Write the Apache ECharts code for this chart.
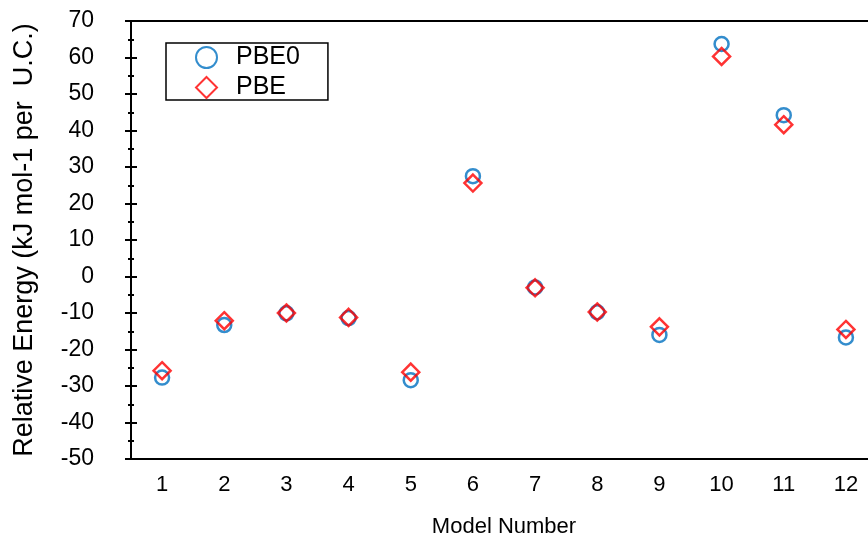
<!DOCTYPE html>
<html>
<head>
<meta charset="utf-8">
<script src="https://cdn.jsdelivr.net/npm/echarts@6/dist/echarts.min.js"></script>
<style>
html,body{margin:0;padding:0;background:#fff;overflow:hidden;width:868px;height:537px;}
#chart{width:877px;height:537px;}
</style>
</head>
<body>
<div id="chart"></div>
<script>
const categories = ['1','2','3','4','5','6','7','8','9','10','11','12'];
const pbe0Values = [-27.7, -13.3, -10.1, -11.4, -28.4, 27.5, -3.0, -9.8, -16.0, 63.7, 44.2, -16.7];
const pbeValues  = [-25.8, -12.1, -10.0, -11.2, -26.2, 25.6, -3.1, -9.7, -13.8, 60.3, 41.6, -14.5];
const yMin = -50, yMax = 70, yStep = 10;

const FONT = '"Liberation Sans", Arial, sans-serif';
const chart = echarts.init(document.getElementById('chart'), null, {renderer: 'canvas'});

const yCommon = {
  type: 'value', min: yMin, max: yMax, interval: yStep, position: 'left',
  axisLine: {show: true, onZero: false, lineStyle: {color: '#000', width: 2}},
  splitLine: {show: false},
  minorTick: {show: true, splitNumber: 2, length: 3, lineStyle: {color: '#000', width: 2}},
  minorSplitLine: {show: false}
};

chart.setOption({
  animation: false,
  backgroundColor: '#fff',
  grid: {left: 131, top: 21, bottom: 78, right: 0, containLabel: false, outerBoundsMode: 'none'},
  legend: {
    orient: 'vertical', left: 166, top: 43,
    padding: [2, 28, 0, 29],
    itemGap: 5, itemWidth: 21, itemHeight: 21,
    borderColor: '#000', borderWidth: 1.5, backgroundColor: '#fff',
    textStyle: {fontFamily: FONT, fontSize: 25, color: '#000', padding: [0, 0, 0, 14]},
    data: ['PBE0', 'PBE']
  },
  xAxis: [{
    type: 'category', data: categories, boundaryGap: true, position: 'bottom',
    name: 'Model Number', nameLocation: 'middle', nameGap: 57,
    nameTextStyle: {fontFamily: FONT, fontSize: 22, color: '#000'},
    axisLine: {show: true, onZero: false, lineStyle: {color: '#000', width: 2}},
    axisTick: {show: false},
    axisLabel: {fontFamily: FONT, fontSize: 22, color: '#000', margin: 15},
    splitLine: {show: false}
  }, {
    type: 'category', data: categories, boundaryGap: true, position: 'top',
    axisLine: {show: true, onZero: false, lineStyle: {color: '#000', width: 2}},
    axisTick: {show: false}, axisLabel: {show: false}, splitLine: {show: false}
  }],
  yAxis: [Object.assign({}, yCommon, {
    name: 'Relative Energy (kJ mol-1 per  U.C.)', nameLocation: 'middle', nameGap: 93,
    nameTextStyle: {fontFamily: FONT, fontSize: 27, color: '#000'},
    axisTick: {show: true, inside: false, length: 6, lineStyle: {color: '#000', width: 2}},
    axisLabel: {fontFamily: FONT, fontSize: 23, color: '#000', margin: 37}
  }), Object.assign({}, yCommon, {
    axisTick: {show: true, inside: true, length: 6, lineStyle: {color: '#000', width: 2}},
    axisLabel: {show: false}
  })],
  series: [{
    name: 'PBE0', type: 'scatter', xAxisIndex: 0, yAxisIndex: 0,
    symbol: 'circle', symbolSize: 14,
    itemStyle: {color: 'rgba(255,255,255,0)', borderColor: '#0070C0', borderWidth: 2.5},
    data: pbe0Values, z: 3
  }, {
    name: 'PBE', type: 'scatter', xAxisIndex: 0, yAxisIndex: 0,
    symbol: 'diamond', symbolSize: 17,
    itemStyle: {color: 'rgba(255,255,255,0)', borderColor: '#FF0000', borderWidth: 2.5},
    data: pbeValues, z: 4
  }]
});
</script>
</body>
</html>
